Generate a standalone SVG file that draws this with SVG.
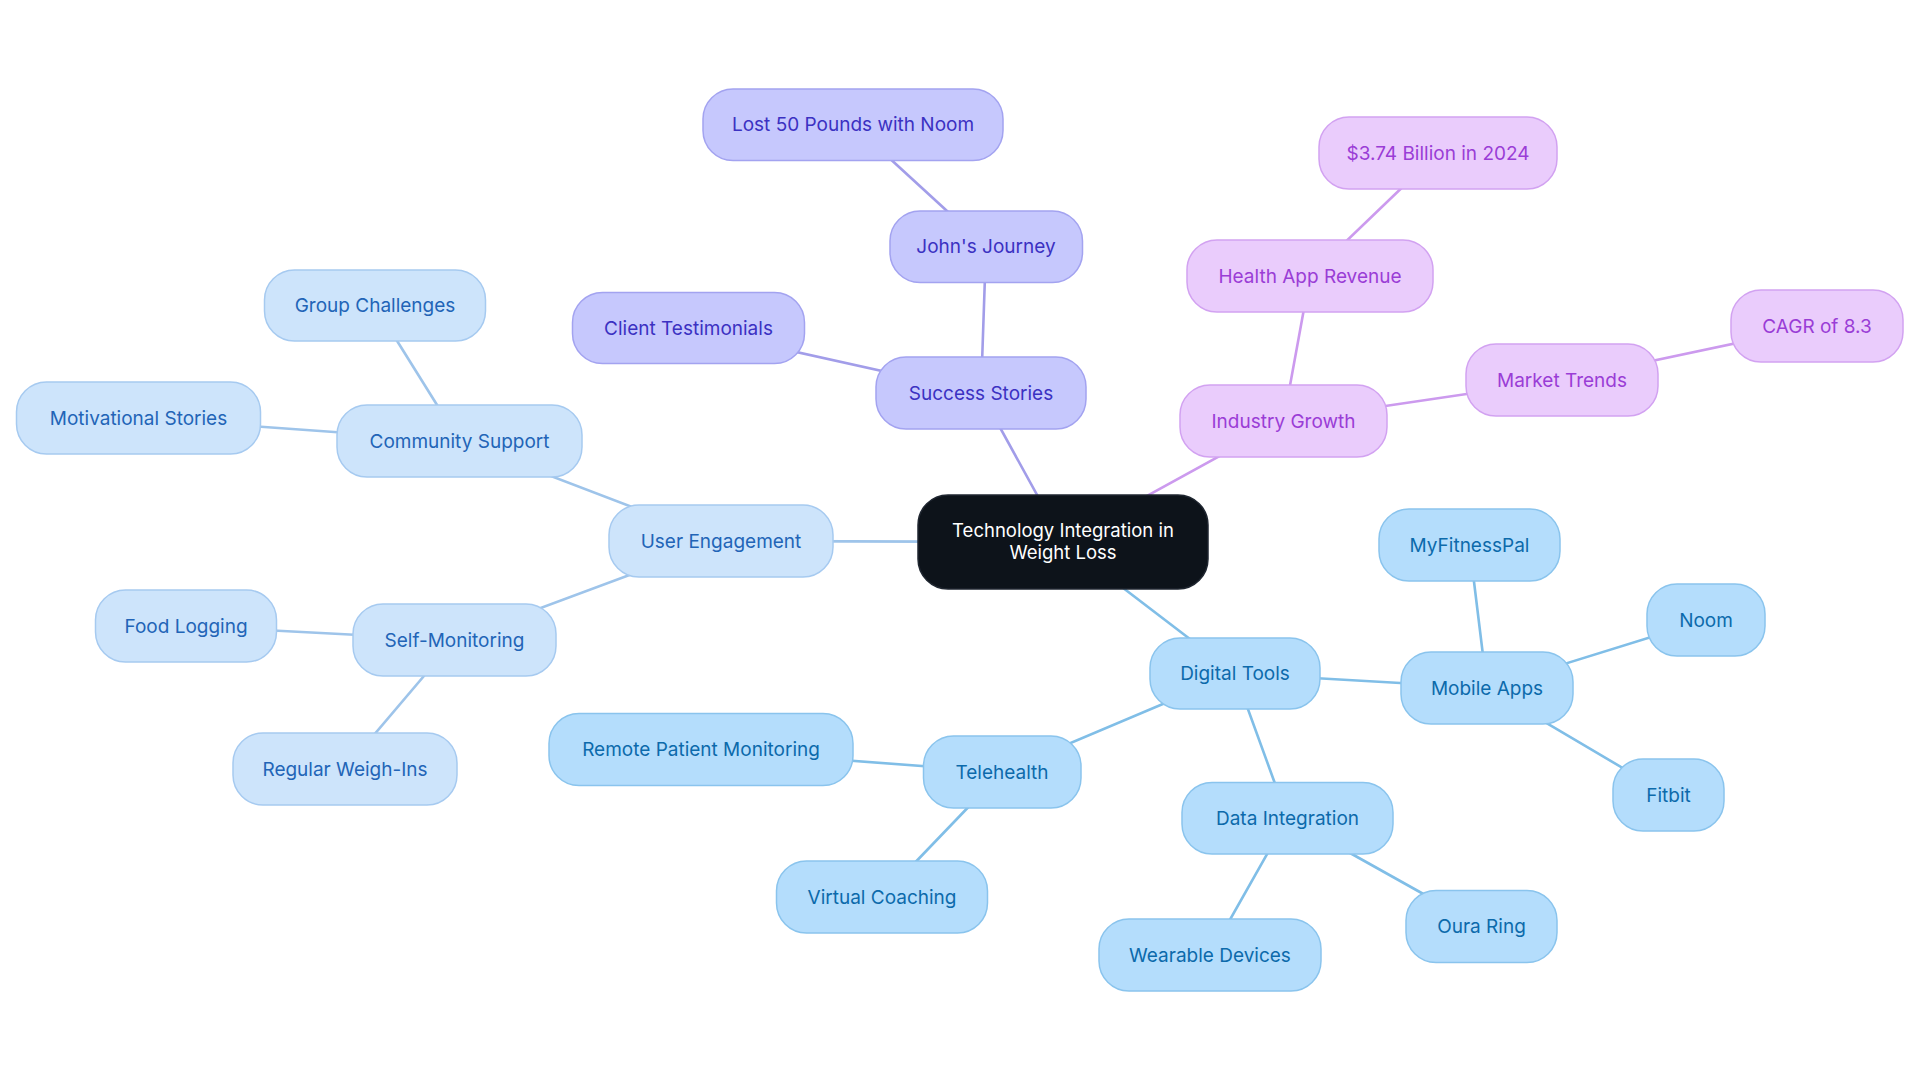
<svg xmlns="http://www.w3.org/2000/svg" width="1920" height="1083" viewBox="0 0 1920 1083">
<style>
text{font-family:Inter,"Noto Sans","Liberation Sans",sans-serif;font-size:19px;text-anchor:middle}
.e{fill:none;stroke-width:2.6;stroke-linecap:round}
.ep{stroke:#a29de9}.ev{stroke:#cc9aee}.el{stroke:#9ec4ea}.es{stroke:#80bee7}
.np rect{fill:#c6c8fd;stroke:#a3a3f0;stroke-width:1.5}.np text{fill:#3b31c2}
.nv rect{fill:#eaccfc;stroke:#d2a2f1;stroke-width:1.5}.nv text{fill:#9a3dd6}
.nl rect{fill:#cde4fb;stroke:#a6caf0;stroke-width:1.5}.nl text{fill:#2264b7}
.ns rect{fill:#b4ddfc;stroke:#8ac4ed;stroke-width:1.5}.ns text{fill:#0c6aab}
.nr rect{fill:#0d131a;stroke:#1f2630;stroke-width:1.5}.nr text{fill:#ffffff;font-size:18.5px}
</style>
<rect width="1920" height="1083" fill="#ffffff"/>
<g id="connectors">
<line class="e el" x1="1063" y1="542" x2="721" y2="541"/>
<line class="e ep" x1="1063" y1="542" x2="981" y2="393"/>
<line class="e ev" x1="1063" y1="542" x2="1283.5" y2="421"/>
<line class="e es" x1="1063" y1="542" x2="1235" y2="673.5"/>
<line class="e el" x1="721" y1="541" x2="459.5" y2="441"/>
<line class="e el" x1="721" y1="541" x2="454.5" y2="640"/>
<line class="e el" x1="459.5" y1="441" x2="375" y2="305.5"/>
<line class="e el" x1="459.5" y1="441" x2="138.5" y2="418"/>
<line class="e el" x1="454.5" y1="640" x2="186" y2="626"/>
<line class="e el" x1="454.5" y1="640" x2="345" y2="769"/>
<line class="e ep" x1="981" y1="393" x2="986" y2="246.7"/>
<line class="e ep" x1="981" y1="393" x2="688.5" y2="328"/>
<line class="e ep" x1="986" y1="246.7" x2="853" y2="124.7"/>
<line class="e ev" x1="1283.5" y1="421" x2="1310" y2="276"/>
<line class="e ev" x1="1283.5" y1="421" x2="1562" y2="380"/>
<line class="e ev" x1="1310" y1="276" x2="1438" y2="153"/>
<line class="e ev" x1="1562" y1="380" x2="1817" y2="326"/>
<line class="e es" x1="1235" y1="673.5" x2="1487" y2="688"/>
<line class="e es" x1="1235" y1="673.5" x2="1002" y2="772"/>
<line class="e es" x1="1235" y1="673.5" x2="1287.5" y2="818"/>
<line class="e es" x1="1487" y1="688" x2="1469.5" y2="545"/>
<line class="e es" x1="1487" y1="688" x2="1706" y2="620"/>
<line class="e es" x1="1487" y1="688" x2="1668.5" y2="795"/>
<line class="e es" x1="1002" y1="772" x2="701" y2="749.5"/>
<line class="e es" x1="1002" y1="772" x2="882" y2="897"/>
<line class="e es" x1="1287.5" y1="818" x2="1210" y2="955"/>
<line class="e es" x1="1287.5" y1="818" x2="1481.5" y2="926.5"/>
</g>
<g id="root" class="nr"><rect x="918" y="495" width="290" height="94" rx="30"/><text x="1063" y="536.5">Technology Integration in</text><text x="1063" y="558.5">Weight Loss</text></g>
<g id="user-engagement" class="nl"><rect x="609" y="505" width="224" height="72" rx="30"/><text x="721" y="547.5">User Engagement</text></g>
<g id="community-support" class="nl"><rect x="337" y="405" width="245" height="72" rx="30"/><text x="459.5" y="447.5">Community Support</text></g>
<g id="motivational-stories" class="nl"><rect x="16.5" y="382" width="244" height="72" rx="30"/><text x="138.5" y="424.5">Motivational Stories</text></g>
<g id="group-challenges" class="nl"><rect x="264.5" y="270" width="221" height="71" rx="30"/><text x="375" y="312">Group Challenges</text></g>
<g id="self-monitoring" class="nl"><rect x="353" y="604" width="203" height="72" rx="30"/><text x="454.5" y="646.5">Self-Monitoring</text></g>
<g id="food-logging" class="nl"><rect x="95.5" y="590" width="181" height="72" rx="30"/><text x="186" y="632.5">Food Logging</text></g>
<g id="regular-weigh-ins" class="nl"><rect x="233" y="733" width="224" height="72" rx="30"/><text x="345" y="775.5">Regular Weigh-Ins</text></g>
<g id="success-stories" class="np"><rect x="876" y="357" width="210" height="72" rx="30"/><text x="981" y="399.5">Success Stories</text></g>
<g id="client-testimonials" class="np"><rect x="572.5" y="292.5" width="232" height="71" rx="30"/><text x="688.5" y="334.5">Client Testimonials</text></g>
<g id="johns-journey" class="np"><rect x="890" y="211" width="192.5" height="71.5" rx="30"/><text x="986" y="253.2">John's Journey</text></g>
<g id="lost-50-pounds" class="np"><rect x="703" y="89" width="300" height="71.5" rx="30"/><text x="853" y="131.2">Lost 50 Pounds with Noom</text></g>
<g id="industry-growth" class="nv"><rect x="1180" y="385" width="207" height="72" rx="30"/><text x="1283.5" y="427.5">Industry Growth</text></g>
<g id="health-app-revenue" class="nv"><rect x="1187" y="240" width="246" height="72" rx="30"/><text x="1310" y="282.5">Health App Revenue</text></g>
<g id="billion-2024" class="nv"><rect x="1319" y="117" width="238" height="72" rx="30"/><text x="1438" y="159.5">$3.74 Billion in 2024</text></g>
<g id="market-trends" class="nv"><rect x="1466" y="344" width="192" height="72" rx="30"/><text x="1562" y="386.5">Market Trends</text></g>
<g id="cagr" class="nv"><rect x="1731" y="290" width="172" height="72" rx="30"/><text x="1817" y="332.5">CAGR of 8.3</text></g>
<g id="digital-tools" class="ns"><rect x="1150" y="638" width="170" height="71" rx="30"/><text x="1235" y="680">Digital Tools</text></g>
<g id="mobile-apps" class="ns"><rect x="1401" y="652" width="172" height="72" rx="30"/><text x="1487" y="694.5">Mobile Apps</text></g>
<g id="myfitnesspal" class="ns"><rect x="1379" y="509" width="181" height="72" rx="30"/><text x="1469.5" y="551.5">MyFitnessPal</text></g>
<g id="noom" class="ns"><rect x="1647" y="584" width="118" height="72" rx="30"/><text x="1706" y="626.5">Noom</text></g>
<g id="fitbit" class="ns"><rect x="1613" y="759" width="111" height="72" rx="30"/><text x="1668.5" y="801.5">Fitbit</text></g>
<g id="telehealth" class="ns"><rect x="923.5" y="736" width="157.5" height="72" rx="30"/><text x="1002" y="778.5">Telehealth</text></g>
<g id="remote-patient-monitoring" class="ns"><rect x="549" y="713.5" width="304" height="72" rx="30"/><text x="701" y="756">Remote Patient Monitoring</text></g>
<g id="virtual-coaching" class="ns"><rect x="776.5" y="861" width="211" height="72" rx="30"/><text x="882" y="903.5">Virtual Coaching</text></g>
<g id="data-integration" class="ns"><rect x="1182" y="782.5" width="211" height="71.5" rx="30"/><text x="1287.5" y="824.5">Data Integration</text></g>
<g id="oura-ring" class="ns"><rect x="1406" y="890.5" width="151" height="72" rx="30"/><text x="1481.5" y="933">Oura Ring</text></g>
<g id="wearable-devices" class="ns"><rect x="1099" y="919" width="222" height="72" rx="30"/><text x="1210" y="961.5">Wearable Devices</text></g>
</svg>
